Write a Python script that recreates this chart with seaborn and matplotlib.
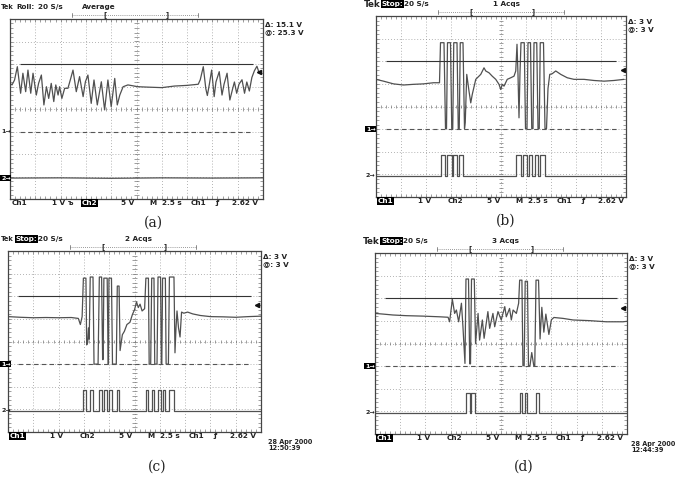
import numpy as np
import matplotlib
matplotlib.use("Agg")
import matplotlib.pyplot as plt
import seaborn as sns

sns.set_theme(style="white")
plt.rcParams["font.family"] = ["DejaVu Sans"]

# ---------------- DATA (screen divisions : x 0..10, y 0..8) ---------------- #

# (a) Roll mode, averaged
a_ch1_t = [0.0, 0.08, 0.18, 0.29, 0.42, 0.51, 0.62, 0.71, 0.82, 0.91, 1.04, 1.13, 1.24, 1.34,
           1.44, 1.53, 1.63, 1.73, 1.81, 1.90, 1.96, 2.05, 2.16, 2.29, 2.40, 2.49, 2.62, 2.75,
           2.89, 2.98, 3.08, 3.21, 3.32, 3.45, 3.61, 3.74, 3.87, 4.00, 4.14, 4.24, 4.34, 4.47,
           4.66, 5.06, 5.5, 6.0, 6.5, 7.0, 7.44, 7.52, 7.64, 7.74, 7.80, 7.88, 7.97, 8.07, 8.14,
           8.27, 8.38, 8.46, 8.58, 8.69, 8.80, 8.87, 8.96, 9.05, 9.17, 9.27, 9.36, 9.46, 9.56,
           9.66, 9.76, 9.85, 9.92]
a_ch1_v = [5.14, 5.07, 5.29, 5.88, 4.70, 5.59, 4.77, 5.73, 4.70, 5.59, 4.62, 5.14, 5.51, 4.18,
           4.99, 4.47, 5.14, 4.33, 5.07, 4.62, 4.99, 4.47, 4.92, 4.92, 5.36, 5.73, 4.77, 5.44,
           4.55, 5.21, 5.51, 4.25, 5.29, 4.18, 5.21, 3.96, 5.29, 4.10, 5.36, 4.18, 4.62, 4.99,
           5.07, 4.99, 4.97, 4.95, 5.02, 5.05, 5.10, 5.30, 5.88, 4.90, 4.60, 5.10, 5.73, 4.55,
           5.20, 5.66, 4.62, 5.10, 5.59, 4.40, 4.90, 5.20, 4.70, 5.10, 5.30, 4.70, 5.20, 4.80,
           5.40, 5.70, 5.90, 5.60, 5.65]
a_ch2_t = [0.0, 2.0, 4.0, 6.0, 8.0, 10.0]
a_ch2_v = [0.93, 0.94, 0.92, 0.94, 0.93, 0.94]

# (b) 1 Acqs
b_ch1_t = [0.0, 0.3, 0.7, 1.1, 1.5, 1.9, 2.3, 2.54, 2.58, 2.72, 2.78, 2.82, 2.86, 2.98, 3.03,
           3.07, 3.11, 3.24, 3.29, 3.33, 3.37, 3.48, 3.54, 3.57, 3.63, 3.72, 3.79, 3.85, 3.99,
           4.19, 4.32, 4.39, 4.52, 4.65, 4.79, 4.92, 4.99, 5.05, 5.12, 5.25, 5.39, 5.52, 5.59,
           5.64, 5.68, 5.72, 5.76, 5.80, 5.93, 5.98, 6.04, 6.08, 6.18, 6.23, 6.28, 6.32, 6.43,
           6.48, 6.53, 6.57, 6.70, 6.76, 6.82, 6.88, 6.95, 7.05, 7.19, 7.39, 7.65, 7.92, 8.32,
           8.72, 9.12, 9.52, 9.92]
b_ch1_v = [5.20, 5.12, 5.00, 4.95, 4.98, 5.00, 5.05, 5.05, 6.82, 6.82, 3.02, 3.02, 6.82, 6.82,
           3.02, 3.02, 6.82, 6.82, 3.02, 3.02, 6.82, 6.82, 3.02, 3.30, 5.42, 4.68, 4.16, 4.53,
           5.20, 5.42, 5.71, 5.57, 5.49, 5.34, 5.20, 4.98, 4.75, 4.98, 4.90, 5.20, 5.27, 5.34,
           5.57, 6.75, 5.40, 3.50, 5.50, 6.82, 6.82, 3.02, 3.02, 6.82, 6.82, 3.02, 3.02, 6.82,
           6.82, 3.02, 3.02, 6.82, 6.82, 3.02, 3.02, 4.80, 5.42, 5.45, 5.57, 5.42, 5.27, 5.20,
           5.20, 5.15, 5.12, 5.15, 5.20]
b_ch2_pulses = [(2.59, 2.77), (2.85, 3.04), (3.08, 3.25), (3.31, 3.49),
                (5.61, 5.79), (5.88, 6.03), (6.11, 6.25), (6.35, 6.48), (6.57, 6.75)]

# (c) 2 Acqs
c_ch1_t = [0.0, 0.5, 1.0, 1.5, 2.0, 2.5, 2.78, 2.86, 2.93, 2.98, 3.08, 3.11, 3.15, 3.18, 3.21,
           3.25, 3.36, 3.40, 3.56, 3.61, 3.70, 3.74, 3.76, 3.79, 3.92, 3.96, 3.97, 3.99, 4.09,
           4.13, 4.28, 4.32, 4.39, 4.43, 4.52, 4.60, 4.70, 4.82, 4.92, 5.00, 5.08, 5.15, 5.22,
           5.30, 5.40, 5.45, 5.55, 5.58, 5.64, 5.68, 5.77, 5.80, 5.89, 5.93, 6.03, 6.06, 6.08,
           6.11, 6.22, 6.25, 6.34, 6.38, 6.56, 6.60, 6.64, 6.68, 6.74, 6.80, 6.86, 6.95, 7.10,
           7.30, 7.60, 8.00, 8.50, 9.00, 9.50, 10.0]
c_ch1_v = [5.10, 5.07, 5.05, 5.06, 5.05, 5.06, 5.02, 4.75, 5.10, 6.80, 6.80, 3.85, 3.95, 4.60,
           4.10, 6.85, 6.85, 3.00, 3.00, 6.85, 6.85, 3.20, 3.20, 6.80, 6.80, 3.00, 3.00, 6.80,
           6.80, 3.00, 3.00, 6.45, 6.45, 3.60, 4.30, 4.45, 4.75, 4.85, 5.20, 5.40, 5.75, 5.50,
           5.65, 5.35, 5.45, 6.80, 6.80, 3.00, 3.00, 6.80, 6.80, 3.00, 3.00, 6.85, 6.85, 3.00,
           3.00, 6.80, 6.80, 3.00, 3.00, 6.85, 6.85, 3.50, 4.60, 5.35, 4.60, 4.20, 5.30, 5.25,
           5.30, 5.22, 5.15, 5.10, 5.09, 5.07, 5.10, 5.12]
c_ch2_pulses = [(2.98, 3.08), (3.24, 3.37), (3.61, 3.70), (3.79, 3.93), (3.99, 4.10), (4.32, 4.40),
                (5.45, 5.55), (5.68, 5.77), (5.93, 6.03), (6.11, 6.22), (6.38, 6.56)]

# (d) 3 Acqs
d_ch1_t = [0.0, 0.32, 0.71, 1.24, 1.90, 2.57, 2.90, 2.96, 3.07, 3.16, 3.23, 3.32, 3.43, 3.49,
           3.57, 3.61, 3.71, 3.76, 3.79, 3.83, 3.94, 3.99, 4.09, 4.15, 4.26, 4.33, 4.48, 4.55,
           4.68, 4.75, 4.88, 5.01, 5.15, 5.21, 5.34, 5.41, 5.48, 5.61, 5.70, 5.74, 5.83, 5.87,
           5.92, 5.96, 6.05, 6.09, 6.15, 6.22, 6.30, 6.34, 6.39, 6.49, 6.55, 6.62, 6.70, 6.78,
           6.90, 7.00, 7.10, 7.46, 7.86, 8.52, 9.18, 9.84, 10.0]
d_ch1_v = [5.33, 5.30, 5.26, 5.23, 5.21, 5.18, 5.16, 4.96, 5.95, 5.33, 5.48, 4.96, 5.78, 4.74,
           3.12, 6.85, 6.85, 3.10, 3.10, 6.85, 6.85, 4.00, 5.33, 4.15, 5.04, 4.23, 5.41, 4.67,
           5.33, 4.74, 5.41, 5.04, 5.63, 5.18, 5.55, 5.04, 5.48, 5.33, 5.78, 6.80, 6.80, 3.02,
           3.02, 6.75, 6.75, 3.02, 3.02, 3.60, 3.02, 3.02, 6.80, 6.80, 4.20, 5.60, 4.50, 5.30,
           4.40, 5.05, 5.15, 5.11, 5.04, 5.01, 4.96, 4.96, 4.98]
d_ch2_pulses = [(3.62, 3.76), (3.82, 3.96), (5.74, 5.83), (5.97, 6.05), (6.40, 6.50)]

ch2_base = 0.93
ch2_high = [None, 1.86, 1.86, 1.80]
cursor_hi, cursor_lo = 6.0, 3.0
cursor_span = (0.4, 9.6)
trig_level = [5.64, 5.62, 5.62, 5.58]

readouts = [("\u0394: 15.1 V", "@: 25.3 V"), ("\u0394: 3 V", "@: 3 V"),
            ("\u0394: 3 V", "@: 3 V"), ("\u0394: 3 V", "@: 3 V")]
modes = ["Roll:", "Stop:", "Stop:", "Stop:"]
acqs = ["Average", "1 Acqs", "2 Acqs", "3 Acqs"]
dates = [None, None, ("28 Apr 2000", "12:50:39"), ("28 Apr 2000", "12:44:39")]
captions = ["(a)", "(b)", "(c)", "(d)"]

# ---------------- LAYOUT (pixels) ---------------- #
W, H = 678, 479
boxes = [(10, 19, 263, 199), (376, 16, 626, 197), (8, 251, 261, 432), (375, 253, 627, 434)]
caption_xy = [(153, 223), (506, 221), (157, 467), (524, 467)]
acq_x = [72, 117, 117, 117]

TRACE = "#505050"
INK = "#222222"
GRID = "#9a9a9a"


def pulse_train(edges, base, hi):
    t, v = [0.0], [base]
    for s, e in edges:
        t += [s, s, e, e]
        v += [base, hi, hi, base]
    t.append(10.0)
    v.append(base)
    return t, v


def graticule(ax):
    ax.set_xlim(0, 10)
    ax.set_ylim(0, 8)
    ax.set_xticks(np.arange(0, 11, 1))
    ax.set_yticks(np.arange(0, 9, 1))
    ax.set_xticks(np.arange(0, 10.01, 0.2), minor=True)
    ax.set_yticks(np.arange(0, 8.01, 0.2), minor=True)
    ax.tick_params(which="both", direction="in", top=True, right=True, bottom=True, left=True,
                   length=2, width=0.5, color="#777", labelbottom=False, labelleft=False)
    for xx in range(1, 10):
        ax.axvline(xx, color=GRID, lw=0.6, ls=(0, (1, 2.5)), zorder=0)
    for yy in range(1, 8):
        ax.axhline(yy, color=GRID, lw=0.6, ls=(0, (1, 2.5)), zorder=0)
    ax.vlines(np.arange(0.2, 10, 0.2), 3.92, 4.08, color="#777", lw=0.5)
    ax.hlines(np.arange(0.2, 8, 0.2), 4.92, 5.08, color="#777", lw=0.5)
    for s in ax.spines.values():
        s.set_color("#444")
        s.set_linewidth(0.9)


fig = plt.figure(figsize=(W / 100, H / 100), dpi=100)

ch1_sets = [(a_ch1_t, a_ch1_v), (b_ch1_t, b_ch1_v), (c_ch1_t, c_ch1_v), (d_ch1_t, d_ch1_v)]
ch2_sets = [(a_ch2_t, a_ch2_v),
            pulse_train(b_ch2_pulses, ch2_base, ch2_high[1]),
            pulse_train(c_ch2_pulses, ch2_base, ch2_high[2]),
            pulse_train(d_ch2_pulses, ch2_base, ch2_high[3])]

for i, (l, t, r, b) in enumerate(boxes):
    ax = fig.add_axes([l / W, 1 - b / H, (r - l) / W, (b - t) / H])
    graticule(ax)
    sns.lineplot(x=ch1_sets[i][0], y=ch1_sets[i][1], ax=ax, estimator=None, sort=False,
                 color=TRACE, lw=0.9)
    sns.lineplot(x=ch2_sets[i][0], y=ch2_sets[i][1], ax=ax, estimator=None, sort=False,
                 color=TRACE, lw=0.9)
    ax.hlines(cursor_hi, *cursor_span, color="#333", lw=0.8)
    ax.hlines(cursor_lo, *cursor_span, color="#555", lw=0.8, linestyles=(0, (4, 3)))
    ax.plot([9.86], [trig_level[i]], marker="<", ms=3, color="#111")
    ax.set_xlabel("")
    ax.set_ylabel("")

# overlay for the scope readouts
ov = fig.add_axes([0, 0, 1, 1])
ov.set_xlim(0, W)
ov.set_ylim(H, 0)
ov.axis("off")
ov.patch.set_alpha(0)


def put(x, y, s, inv=False, size=5.2, weight="bold", ha="left", **kw):
    box = dict(facecolor="black", edgecolor="none", pad=0.5) if inv else None
    ov.text(x, y, s, fontsize=size, fontweight=weight, ha=ha, va="center",
            color="white" if inv else INK, bbox=box, **kw)


status = [(2, "Ch1"), (42, "1 V"), (72, "Ch2"), (111, "5 V"), (139, "M"), (152, "2.5 s"),
          (181, "Ch1"), (205, "\u0192"), (222, "2.62 V")]

for i, (l, t, r, b) in enumerate(boxes):
    # header
    if l - 12 < 1:
        put(1, t - 12, "Tek", size=4.8)
        mode_x = 16
    else:
        put(l - 12, t - 12, "Tek", size=6.3)
        mode_x = l + 6
    put(mode_x, t - 12, modes[i], inv=(i > 0))
    put(mode_x + 22, t - 12, "20 S/s")
    put(l + acq_x[i], t - 12, acqs[i])
    ov.plot([l + 62, l + 188], [t - 4, t - 4], color="#777", lw=0.6, ls=(0, (1, 1.5)))
    ov.plot([l + 62, l + 62], [t - 6, t - 2], color="#777", lw=0.6)
    ov.plot([l + 188, l + 188], [t - 6, t - 2], color="#777", lw=0.6)
    put(l + 95, t - 4, "[", size=5, ha="center")
    put(l + 157, t - 4, "]", size=5, ha="center")
    # cursor readouts
    put(r + 2, t + 6, readouts[i][0])
    put(r + 2, t + 13, readouts[i][1])
    # channel markers
    ppd = (b - t) / 8
    put(max(1, l - 10), b - cursor_lo * ppd, "1\u2192", inv=(i > 0), size=4.5)
    put(max(1, l - 10), b - ch2_base * ppd, "2\u2192", inv=(i == 0), size=4.5)
    # status row
    for dx, s in status:
        inv = (s == "Ch1" and dx == 2 and i > 0) or (s == "Ch2" and i == 0)
        put(l + dx, b + 4, s, inv=inv)
    if i == 0:
        put(l + 58, b + 4, "\u044a")
    if dates[i]:
        dx = min(r + 7, W - 47)
        put(dx, b + 10, dates[i][0], size=4.7)
        put(dx, b + 16, dates[i][1], size=4.7)
    cx, cy = caption_xy[i]
    ov.text(cx, cy, captions[i], fontsize=10, ha="center", va="center", color=INK,
            family=["DejaVu Serif"])

fig.savefig("out.png", dpi=100, facecolor="white")
